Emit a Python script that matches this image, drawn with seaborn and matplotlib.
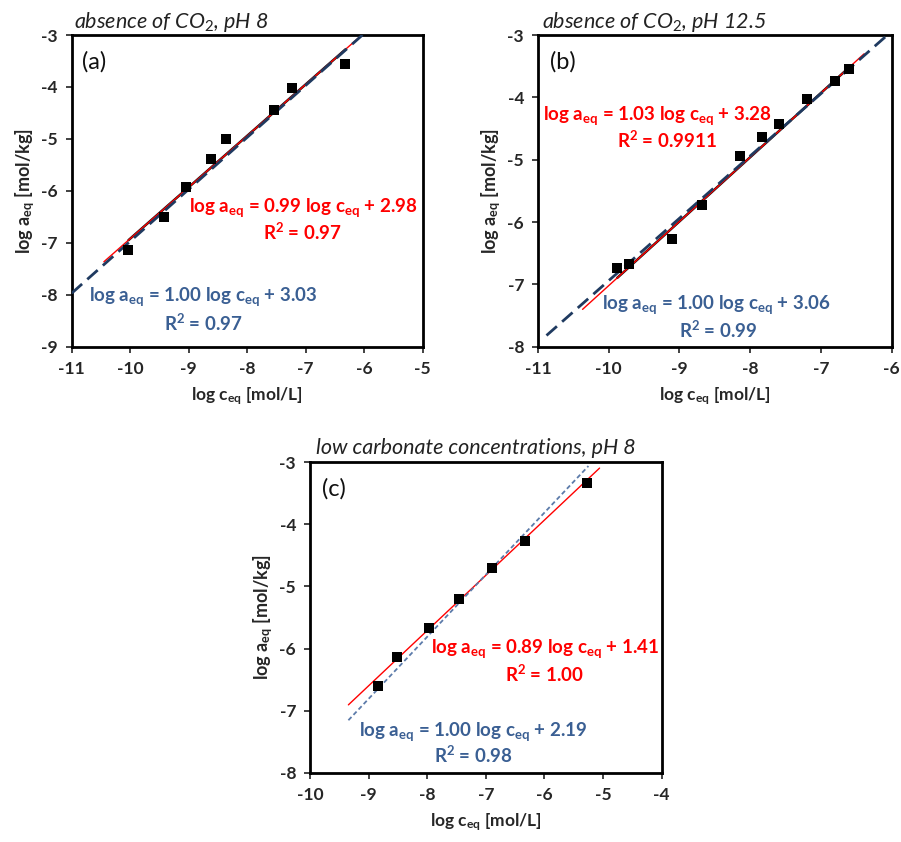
import numpy as np
import pandas as pd
import matplotlib
matplotlib.use("Agg")
import matplotlib.pyplot as plt
import seaborn as sns

# ---------------- data ----------------
# Panel (a): absence of CO2, pH 8
a_x = [-10.03, -9.42, -9.05, -8.62, -8.37, -7.55, -7.23, -6.32]
a_y = [-7.13, -6.50, -5.93, -5.39, -5.01, -4.45, -4.02, -3.56]
# Panel (b): absence of CO2, pH 12.5
b_x = [-9.88, -9.72, -9.11, -8.68, -8.14, -7.83, -7.59, -7.20, -6.80, -6.60]
b_y = [-6.73, -6.68, -6.28, -5.73, -4.94, -4.64, -4.43, -4.02, -3.73, -3.55]
# Panel (c): low carbonate concentrations, pH 8
c_x = [-8.84, -8.51, -7.97, -7.45, -6.89, -6.33, -5.27]
c_y = [-6.60, -6.14, -5.67, -5.20, -4.71, -4.27, -3.33]

# fit equations (slope, intercept) and drawn x ranges
a_red = (0.99, 2.98); a_red_range = [-10.45, -6.1]
a_blue = (1.00, 3.03); a_blue_range = [-11.0, -5.97]
b_red = (1.03, 3.28); b_red_range = [-10.37, -6.39]
b_blue = (1.00, 3.06); b_blue_range = [-10.88, -6.06]
c_red = (0.89, 1.41); c_red_range = [-9.345, -5.06]
c_blue = (1.00, 2.19); c_blue_range = [-9.345, -5.25]

titles = ["absence of CO$_{\\mathit{2}}$, pH 8",
          "absence of CO$_{\\mathit{2}}$, pH 12.5",
          "low carbonate concentrations, pH 8"]
panel_labels = ["(a)", "(b)", "(c)"]
red_eqs = ["0.99", "2.98", "1.03", "3.28", "0.89", "1.41"]
red_r2 = ["0.97", "0.9911", "1.00"]
blue_eqs = ["1.00", "3.03", "1.00", "3.06", "1.00", "2.19"]
blue_r2 = ["0.97", "0.99", "0.98"]

a_xticks = [-11, -10, -9, -8, -7, -6, -5]; a_yticks = [-9, -8, -7, -6, -5, -4, -3]
b_xticks = [-11, -10, -9, -8, -7, -6]; b_yticks = [-8, -7, -6, -5, -4, -3]
c_xticks = [-10, -9, -8, -7, -6, -5, -4]; c_yticks = [-8, -7, -6, -5, -4, -3]

# ---------------- style ----------------
sns.set_style("ticks")
plt.rcParams['font.family'] = ['Lato', 'DejaVu Sans']
plt.rcParams['mathtext.fontset'] = 'custom'
plt.rcParams['mathtext.rm'] = 'Lato'
plt.rcParams['mathtext.bf'] = 'Lato:bold'
plt.rcParams['mathtext.it'] = 'Lato:italic'

RED = '#FF0000'
BLUE_TXT = '#3A5F93'
BLUE_DASH = '#1F3A60'
BLUE_DOT = '#5C7BAA'

W, H = 901, 842
fig = plt.figure(figsize=(W / 100, H / 100), dpi=100)


def px_axes(l, t, r, b):
    return fig.add_axes([l / W, 1 - b / H, (r - l) / W, (b - t) / H])


axA = px_axes(71.7, 35, 422.7, 346.7)
axB = px_axes(538, 35, 891.7, 346.7)
axC = px_axes(310, 462.3, 661.7, 772.7)


def line(ax, coef, xr, **kw):
    xs = np.array(xr)
    df = pd.DataFrame({'x': xs, 'y': coef[0] * xs + coef[1]})
    sns.lineplot(data=df, x='x', y='y', ax=ax, legend=False, **kw)


def eq(s, i):
    return "log a$_{\\mathbf{eq}}$ = %s log c$_{\\mathbf{eq}}$ + %s" % (s, i)


panels = [
    (axA, a_x, a_y, a_red, a_red_range, a_blue, a_blue_range, a_xticks, a_yticks, 'dash'),
    (axB, b_x, b_y, b_red, b_red_range, b_blue, b_blue_range, b_xticks, b_yticks, 'dash'),
    (axC, c_x, c_y, c_red, c_red_range, c_blue, c_blue_range, c_xticks, c_yticks, 'dot'),
]

for k, (ax, xs, ys, rc, rr, bc, br, xt, yt, style) in enumerate(panels):
    if style == 'dash':
        # black trendline across data range
        line(ax, rc, [min(xs), max(xs)], color='#111111', linewidth=1.8, zorder=2)
        line(ax, rc, rr, color=RED, linewidth=1.0, zorder=3)
        line(ax, bc, br, color=BLUE_DASH, linewidth=2.0, zorder=4,
             dashes=(5, 2.5))
    else:
        line(ax, rc, rr, color=RED, linewidth=1.0, zorder=3)
        line(ax, bc, br, color=BLUE_DOT, linewidth=1.3, zorder=4,
             dashes=(2.5, 1.6))
    sns.scatterplot(x=xs, y=ys, ax=ax, marker='s', color='black', s=52,
                    edgecolor='black', linewidth=0, zorder=5)

    ax.set_xlim(xt[0], xt[-1])
    ax.set_ylim(yt[0], yt[-1])
    ax.set_xticks(xt)
    ax.set_yticks(yt)
    ax.set_xticklabels([str(v) for v in xt])
    ax.set_yticklabels([str(v) for v in yt])
    for sp in ax.spines.values():
        sp.set_visible(True)
        sp.set_linewidth(2.0)
        sp.set_color('black')
    ax.tick_params(direction='out', length=4, width=1.3, color='#333333',
                   labelsize=12.5, pad=6)
    for lab in ax.get_xticklabels() + ax.get_yticklabels():
        lab.set_fontweight('bold')
    ax.set_xlabel("log c$_{\\mathbf{eq}}$ [mol/L]", fontsize=12.5,
                  fontweight='bold', labelpad=6)
    ax.set_ylabel("log a$_{\\mathbf{eq}}$ [mol/kg]", fontsize=13,
                  fontweight='bold', labelpad=3)
    ax.grid(False)

# equation texts (axes fraction positions)
txt_pos = [
    ((0.659, 0.448), (0.656, 0.368), (0.374, 0.160), (0.374, 0.076), (0.029, 0.913)),
    ((0.336, 0.743), (0.365, 0.663), (0.503, 0.134), (0.509, 0.054), (0.034, 0.913)),
    ((0.668, 0.399), (0.668, 0.318), (0.464, 0.132), (0.464, 0.055), (0.034, 0.916)),
]
EQ_FS = 13.5
for k, ax in enumerate([axA, axB, axC]):
    p = txt_pos[k]
    ax.text(*p[0], eq(red_eqs[2 * k], red_eqs[2 * k + 1]), transform=ax.transAxes,
            ha='center', va='center', color=RED, fontsize=EQ_FS, fontweight='bold',
            zorder=6, clip_on=False)
    ax.text(*p[1], "R$^{\\mathbf{2}}$ = %s" % red_r2[k], transform=ax.transAxes,
            ha='center', va='center', color=RED, fontsize=EQ_FS, fontweight='bold', zorder=6)
    ax.text(*p[2], eq(blue_eqs[2 * k], blue_eqs[2 * k + 1]), transform=ax.transAxes,
            ha='center', va='center', color=BLUE_TXT, fontsize=EQ_FS, fontweight='bold', zorder=6)
    ax.text(*p[3], "R$^{\\mathbf{2}}$ = %s" % blue_r2[k], transform=ax.transAxes,
            ha='center', va='center', color=BLUE_TXT, fontsize=EQ_FS, fontweight='bold', zorder=6)
    ax.text(*p[4], panel_labels[k], transform=ax.transAxes, ha='left', va='center',
            fontsize=17, color='#111111', zorder=6)

# titles
title_pos = [(74, 22), (542, 22), (316, 448)]
for t, (tx, ty) in zip(titles, title_pos):
    fig.text(tx / W, 1 - ty / H, t, ha='left', va='center', fontsize=15.5,
             style='italic', color='#222222')

fig.savefig('out.png', dpi=100)
